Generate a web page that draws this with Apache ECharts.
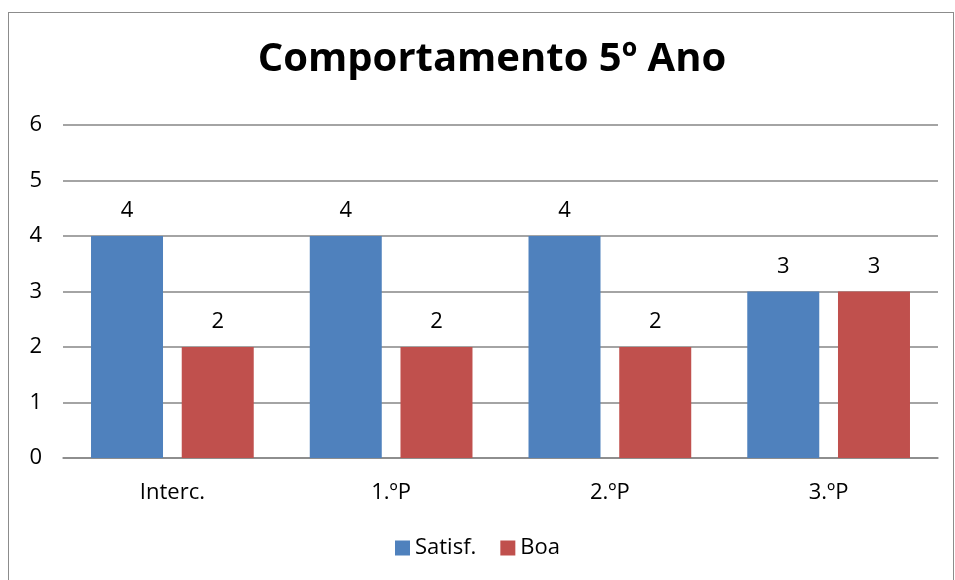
<!DOCTYPE html>
<html><head><meta charset="utf-8">
<script src="https://cdn.jsdelivr.net/npm/echarts@6/dist/echarts.min.js"></script>
<style>
html,body{margin:0;padding:0;background:#fff;}
#frame{position:absolute;left:8px;top:12px;width:946px;height:580px;border:1.5px solid #8c8c8c;box-sizing:border-box;}
#c{position:absolute;left:0;top:0;width:955px;height:580px;}
</style></head>
<body><div id="frame"></div><div id="c"></div>
<script>
const categories = ['Interc.', '1.ºP', '2.ºP', '3.ºP'];
const satisf = [4, 4, 4, 3];
const boa = [2, 2, 2, 3];
const yTicks = [0, 1, 2, 3, 4, 5, 6];

const font = "'Open Sans', 'Liberation Sans', sans-serif";
const chart = echarts.init(document.getElementById('c'), null, {renderer: 'canvas'});
chart.setOption({
  animation: false,
  title: {text: 'Comportamento 5º Ano', left: 487, top: 35, textAlign: 'center',
    textStyle: {fontFamily: font, fontSize: 40, fontWeight: 'bold', color: '#000'}},
  legend: {bottom: 16, left: 'center', itemWidth: 15, itemHeight: 15, itemGap: 24,
    icon: 'rect', textStyle: {fontFamily: font, fontSize: 22, color: '#000'},
    data: ['Satisf.', 'Boa']},
  grid: {left: 63, right: 17, top: 125, bottom: 122},
  xAxis: {type: 'category', data: categories,
    axisLine: {lineStyle: {color: '#868686', width: 1.5}}, axisTick: {show: false},
    axisLabel: {fontFamily: font, fontSize: 22, color: '#000', margin: 24}},
  yAxis: {type: 'value', min: yTicks[0], max: yTicks[yTicks.length - 1], interval: 1,
    axisLine: {show: false}, axisTick: {show: false},
    splitLine: {lineStyle: {color: '#868686', width: 1.5}},
    axisLabel: {fontFamily: font, fontSize: 22, color: '#000', margin: 21}},
  series: [
    {name: 'Satisf.', type: 'bar', data: satisf, barWidth: 72, barGap: '26%',
      itemStyle: {color: '#4F81BD'},
      label: {show: true, position: 'top', distance: 14, fontFamily: font, fontSize: 22, color: '#000'}},
    {name: 'Boa', type: 'bar', data: boa, barWidth: 72,
      itemStyle: {color: '#C0504D'},
      label: {show: true, position: 'top', distance: 14, fontFamily: font, fontSize: 22, color: '#000'}}
  ]
});
</script></body></html>
